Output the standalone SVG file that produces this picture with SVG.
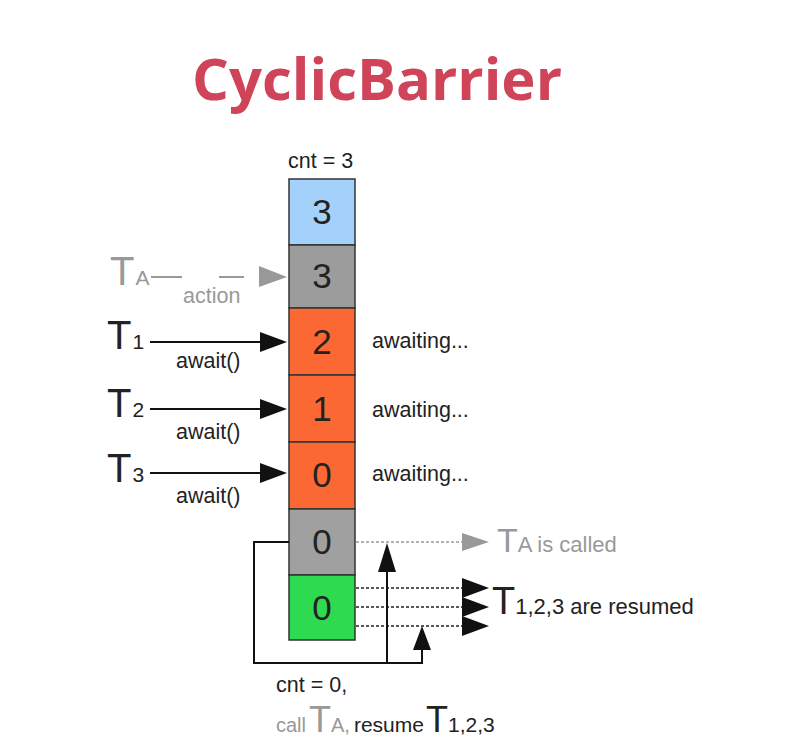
<svg xmlns="http://www.w3.org/2000/svg" width="802" height="754" viewBox="0 0 802 754">
<defs>
<style>
.t{font-family:"Liberation Sans",Arial,sans-serif;fill:#222}
.g{fill:#999}
.cell{stroke:#333;stroke-width:1.5}
.num{font-family:"Liberation Sans",Arial,sans-serif;font-size:35px;fill:#222;text-anchor:middle}
.sm{font-size:21.5px}
.ln{stroke:#111;stroke-width:2;fill:none}
.dash{stroke:#222;stroke-width:1.5;stroke-dasharray:3 2;fill:none}
</style>
</defs>
<rect width="802" height="754" fill="#fff"/>
<text x="377" y="100" text-anchor="middle" font-family="'Open Sans',sans-serif" font-weight="bold" font-size="58" fill="#d0445a">CyclicBarrier</text>

<g id="column">
<text class="t sm" x="288" y="168">cnt = 3</text>
<g id="c1"><rect class="cell" x="289" y="179" width="66" height="66" fill="#a4d1fb"/><text class="num" x="322" y="224">3</text></g>
<g id="c2"><rect class="cell" x="289" y="245" width="66" height="63" fill="#9c9c9c"/><text class="num" x="322" y="288">3</text></g>
<g id="c3"><rect class="cell" x="289" y="308" width="66" height="67" fill="#fb6834"/><text class="num" x="322" y="354">2</text></g>
<g id="c4"><rect class="cell" x="289" y="375" width="66" height="67" fill="#fb6834"/><text class="num" x="322" y="421">1</text></g>
<g id="c5"><rect class="cell" x="289" y="442" width="66" height="67" fill="#fb6834"/><text class="num" x="322" y="487">0</text></g>
<g id="c6"><rect class="cell" x="289" y="509" width="66" height="66" fill="#a0a0a0"/><text class="num" x="322" y="554">0</text></g>
<g id="c7"><rect class="cell" x="289" y="575" width="66" height="65" fill="#2edb50"/><text class="num" x="322" y="620">0</text></g>
</g>

<g id="TA">
<text x="110" y="285" font-family="'Liberation Sans',Arial,sans-serif" class="g"><tspan font-size="40">T</tspan><tspan font-size="21" dx="1">A</tspan></text>
<text class="sm" x="183" y="303" font-family="'Liberation Sans',Arial,sans-serif" fill="#999">action</text>
</g>
<g id="T1">
<text x="107" y="349" class="t"><tspan font-size="40">T</tspan><tspan font-size="21" dx="1">1</tspan></text>
<text class="t sm" x="176" y="368">await()</text>
<text class="t sm" x="372" y="348">awaiting...</text>
</g>
<g id="T2">
<text x="107" y="417" class="t"><tspan font-size="40">T</tspan><tspan font-size="21" dx="1">2</tspan></text>
<text class="t sm" x="176" y="439">await()</text>
<text class="t sm" x="372" y="417">awaiting...</text>
</g>
<g id="T3">
<text x="107" y="482" class="t"><tspan font-size="40">T</tspan><tspan font-size="21" dx="1">3</tspan></text>
<text class="t sm" x="176" y="503">await()</text>
<text class="t sm" x="372" y="481">awaiting...</text>
</g>
<g id="TAcalled">
<text x="497" y="552" font-family="'Liberation Sans',Arial,sans-serif" fill="#999"><tspan font-size="34">T</tspan><tspan font-size="22">A is called</tspan></text>
</g>
<g id="resumed">
<text x="492" y="614" class="t"><tspan font-size="38">T</tspan><tspan font-size="22">1,2,3 are resumed</tspan></text>
</g>
<g id="bottom">
<text class="t sm" x="276" y="692">cnt = 0,</text>
<text x="276" y="732" font-family="'Liberation Sans',Arial,sans-serif"><tspan font-size="20" fill="#999">call</tspan><tspan font-size="36" fill="#999" dx="3">T</tspan><tspan font-size="20" fill="#999">A,</tspan><tspan font-size="21" fill="#222" dx="4">resume</tspan><tspan font-size="36" fill="#222" dx="2">T</tspan><tspan font-size="21" fill="#222">1,2,3</tspan></text>
</g>

<g id="connectors">
<line x1="151" y1="277" x2="182" y2="277" stroke="#999" stroke-width="2"/>
<line x1="219" y1="277" x2="244" y2="277" stroke="#999" stroke-width="2"/>
<polygon points="259,266 287,277 259,287" fill="#999"/>
<line class="ln" x1="150" y1="342" x2="262" y2="342"/><polygon points="260,332 287,342 260,352" fill="#111"/>
<line class="ln" x1="150" y1="409" x2="262" y2="409"/><polygon points="260,399 287,409 260,419" fill="#111"/>
<line class="ln" x1="150" y1="473" x2="262" y2="473"/><polygon points="260,463 287,473 260,483" fill="#111"/>
<line x1="356" y1="542" x2="462" y2="542" stroke="#999" stroke-width="1.5" stroke-dasharray="3 2"/>
<polygon points="462,533 489,542 462,551" fill="#999"/>
<line class="dash" x1="356" y1="588" x2="462" y2="588"/><polygon points="462,578 489,588 462,598" fill="#111"/>
<line class="dash" x1="356" y1="607" x2="462" y2="607"/><polygon points="462,597 489,607 462,617" fill="#111"/>
<line class="dash" x1="356" y1="626" x2="462" y2="626"/><polygon points="462,616 489,626 462,636" fill="#111"/>
<polyline class="ln" points="289,542 254,542 254,663 422,663 422,648"/>
<line class="ln" x1="387" y1="663" x2="387" y2="570"/>
<polygon points="378,572 387,543 396,572" fill="#111"/>
<polygon points="413,650 422,626 431,650" fill="#111"/>
</g>
</svg>
